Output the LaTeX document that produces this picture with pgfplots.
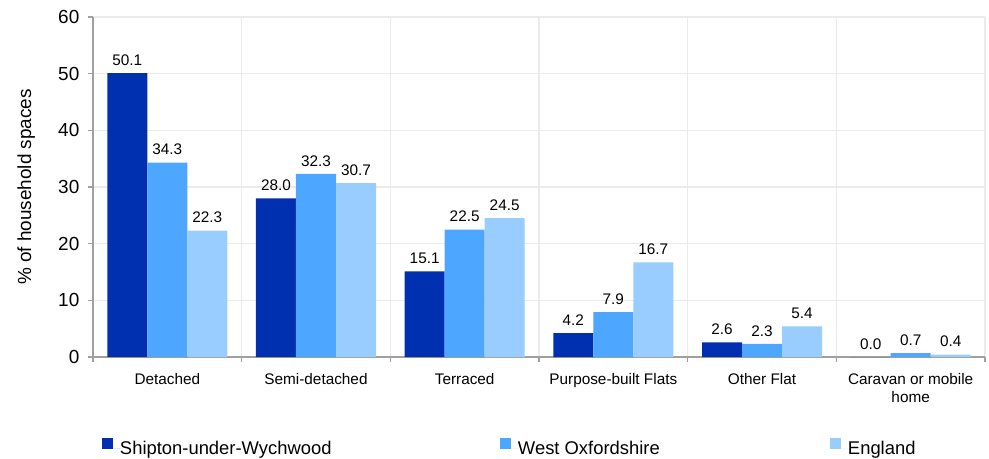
\documentclass[border=0pt]{standalone}
\usepackage{fontspec}
\setmainfont{Liberation Sans}
\usepackage{pgfplots}
\pgfplotsset{compat=1.18}

\definecolor{cdark}{HTML}{0030B0}
\definecolor{cmid}{HTML}{4DA6FF}
\definecolor{clight}{HTML}{99CCFF}
\definecolor{gridc}{HTML}{EBEBEB}
\definecolor{axc}{HTML}{A0A0A0}

\begin{document}
\begin{tikzpicture}
\path[use as bounding box] (-69.75pt,-75.75pt) rectangle (672pt,267.75pt);
\begin{axis}[
    scale only axis,
    width=669pt, height=255pt,
    xmin=-0.5, xmax=5.5,
    ymin=0, ymax=60,
    ybar=0pt, bar width=30pt,
    /pgf/number format/assume math mode=true,
    axis x line*=bottom, axis y line*=left,
    axis line style={axc, line width=1pt},
    tick align=outside,
    major tick length=3.75pt,
    tick style={axc, line width=1pt},
    xtick={-0.5,0.5,...,5.5},
    xticklabels={},
    extra x ticks={0,1,2,3,4,5},
    extra x tick labels={Detached, Semi-detached, Terraced, Purpose-built Flats, Other Flat, {Caravan or mobile\\home}},
    extra x tick style={major tick length=0pt, grid=none,
        tick label style={font=\fontsize{11.5}{13.5}\selectfont, align=center, inner sep=0pt, yshift=-12pt}},
    ytick={0,10,...,60},
    yticklabel style={font=\fontsize{14.2}{16}\selectfont, xshift=-3pt},
    xmajorgrids, ymajorgrids,
    grid style={gridc, line width=1pt},
    ylabel={\% of household spaces},
    ylabel style={font=\fontsize{14.2}{16}\selectfont, at={(axis description cs:0,0.5)}, anchor=center, yshift=50pt},
    nodes near coords={\pgfmathprintnumber[fixed,fixed zerofill,precision=1]{\pgfplotspointmeta}},
    every node near coord/.append style={font=\fontsize{11.5}{13}\selectfont, black, inner sep=0pt, yshift=5.5pt},
    legend columns=3,
    legend image code/.code={\fill[#1] (0pt,0pt) rectangle (8.25pt,8.25pt); \path (0pt,0pt) -- (13.5pt,0pt);},
    legend style={draw=none, fill=none, inner sep=0pt, outer sep=0pt,
        at={(axis description cs:0,0)}, anchor=west, xshift=6.75pt, yshift=-67.5pt,
        font=\fontsize{13.8}{16}\selectfont, cells={anchor=west},
        /tikz/column sep=0pt, nodes={inner sep=0pt}},
]
\addplot[fill=cdark, draw=none] coordinates {(0,50.1) (1,28.0) (2,15.1) (3,4.2) (4,2.6) (5,0.0)};
\addplot[fill=cmid, draw=none] coordinates {(0,34.3) (1,32.3) (2,22.5) (3,7.9) (4,2.3) (5,0.7)};
\addplot[fill=clight, draw=none] coordinates {(0,22.3) (1,30.7) (2,24.5) (3,16.7) (4,5.4) (5,0.4)};
\addlegendentry{\makebox[285pt][l]{Shipton-under-Wychwood}}
\addlegendentry{\makebox[234pt][l]{West Oxfordshire}}
\addlegendentry{England}
\end{axis}
\end{tikzpicture}
\end{document}
